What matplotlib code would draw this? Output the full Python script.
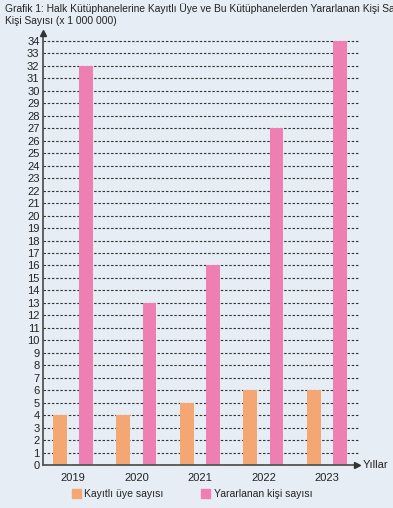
import numpy as np
import matplotlib.pyplot as plt
from matplotlib.patches import Patch

plt.rcParams['font.family'] = ['Liberation Sans', 'DejaVu Sans']

years = ['2019', '2020', '2021', '2022', '2023']
kayitli = [4, 4, 5, 6, 6]        # Kayıtlı üye sayısı
yararlanan = [32, 13, 16, 27, 34]  # Yararlanan kişi sayısı

c_orange = '#f4a673'
c_pink = '#ee7fb3'
bg = '#e7edf4'

fig = plt.figure(figsize=(3.93, 5.08), dpi=100, facecolor=bg)
ax = fig.add_axes([43/393, 43/508, 317/393, 434/508])
ax.set_facecolor(bg)

x = np.arange(len(years))
w = 0.22
ax.bar(x - 0.205, kayitli, w, color=c_orange, zorder=3)
ax.bar(x + 0.205, yararlanan, w, color=c_pink, zorder=3)

ax.set_xlim(-0.472, 4.52)
ax.set_ylim(0, 34.8)
ax.set_yticks(range(0, 35))
ax.set_xticks(x)
ax.set_xticklabels(years)
ax.tick_params(axis='both', length=0, labelsize=8, colors='#222222')
ax.tick_params(axis='y', pad=2.5)
ax.tick_params(axis='x', pad=6)

for v in range(1, 35):
    ax.axhline(v, color='#333333', lw=0.8, ls=(0, (2.2, 1.6)), zorder=1)

for s in ax.spines.values():
    s.set_visible(False)

# axes with arrows
ax.plot([0, 0], [0, 0.99], transform=ax.transAxes, color='#555555', lw=1.3, clip_on=False, zorder=4)
ax.plot([0], [0.995], marker='^', ms=4, color='#333333', transform=ax.transAxes, clip_on=False, zorder=4)
ax.plot([0, 0.985], [0, 0], transform=ax.transAxes, color='#555555', lw=1.3, clip_on=False, zorder=4)
ax.plot([0.99], [0], marker='>', ms=4, color='#333333', transform=ax.transAxes, clip_on=False, zorder=4)
fig.text(363/393, 1 - 465/508, 'Yıllar', fontsize=8, va='center', ha='left', color='#222222')

fig.text(5/393, 1 - 9/508, 'Grafik 1: Halk Kütüphanelerine Kayıtlı Üye ve Bu Kütüphanelerden Yararlanan Kişi Sayısı',
         fontsize=7.4, va='center', ha='left', color='#222222')
fig.text(5/393, 1 - 21/508, 'Kişi Sayısı (x 1 000 000)', fontsize=7.4, va='center', ha='left', color='#222222')

handles = [Patch(color=c_orange, label='Kayıtlı üye sayısı'),
           Patch(color=c_pink, label='Yararlanan kişi sayısı')]
fig.legend(handles=handles, loc='center left', bbox_to_anchor=(72/393, 1 - 494/508), ncol=2,
           frameon=False, fontsize=7.5, handlelength=0.85, handleheight=0.85, handletextpad=0.35,
           columnspacing=3.6, borderpad=0, borderaxespad=0, labelcolor='#222222')

fig.savefig('out.png', dpi=100, facecolor=bg)
